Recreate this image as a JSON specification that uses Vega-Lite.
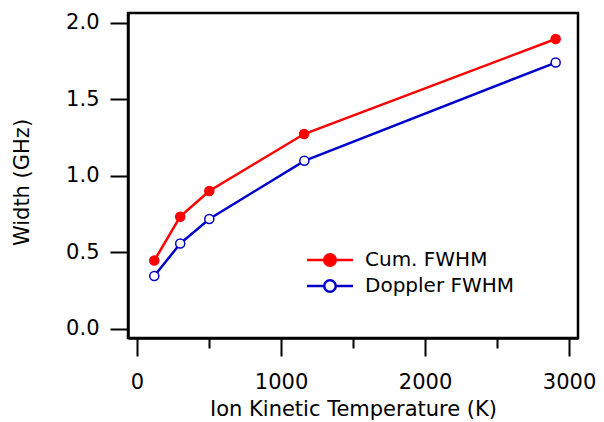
{
  "$schema": "https://vega.github.io/schema/vega-lite/v6.json",
  "width": 450,
  "height": 325,
  "autosize": "none",
  "padding": {"left": 128, "top": 13, "right": 26, "bottom": 84},
  "background": "white",
  "config": {
    "font": "DejaVu Sans",
    "view": {"stroke": "black", "strokeWidth": 2.5},
    "axis": {
      "grid": false,
      "domainColor": "black",
      "domainWidth": 2.5,
      "tickColor": "black",
      "tickWidth": 2,
      "labelColor": "black",
      "labelFont": "DejaVu Sans",
      "labelFontSize": 21,
      "titleFont": "DejaVu Sans",
      "titleFontSize": 21,
      "titleFontWeight": "normal",
      "titleColor": "black"
    },
    "legend": {
      "title": null,
      "orient": "none",
      "legendX": 189,
      "legendY": 234,
      "padding": 0,
      "symbolSize": 529,
      "symbolStrokeWidth": 2.5,
      "labelFontSize": 20,
      "labelFont": "DejaVu Sans",
      "labelColor": "black",
      "labelOffset": 22,
      "rowPadding": 2
    }
  },
  "data": {
    "values": [
      {"series": "Cum. FWHM", "T": 120, "W": 0.445},
      {"series": "Cum. FWHM", "T": 300, "W": 0.732},
      {"series": "Cum. FWHM", "T": 502, "W": 0.900},
      {"series": "Cum. FWHM", "T": 1160, "W": 1.272},
      {"series": "Cum. FWHM", "T": 2907, "W": 1.893},
      {"series": "Doppler FWHM", "T": 120, "W": 0.344},
      {"series": "Doppler FWHM", "T": 300, "W": 0.556},
      {"series": "Doppler FWHM", "T": 502, "W": 0.717},
      {"series": "Doppler FWHM", "T": 1162, "W": 1.097},
      {"series": "Doppler FWHM", "T": 2907, "W": 1.739}
    ]
  },
  "encoding": {
    "x": {
      "field": "T",
      "type": "quantitative",
      "scale": {"domain": [-62.5, 3062], "nice": false, "zero": false},
      "axis": {
        "title": "Ion Kinetic Temperature (K)",
        "values": [0, 500, 1000, 1500, 2000, 2500, 3000],
        "format": "d",
        "tickSize": {"condition": {"test": "datum.value % 1000 === 0", "value": 18}, "value": 10},
        "labelExpr": "datum.value % 1000 === 0 ? datum.label : ''",
        "labelPadding": 15,
        "titlePadding": 6
      }
    },
    "y": {
      "field": "W",
      "type": "quantitative",
      "scale": {"domain": [-0.061, 2.063], "nice": false, "zero": false},
      "axis": {
        "title": "Width (GHz)",
        "values": [0, 0.5, 1, 1.5, 2],
        "format": ".1f",
        "tickSize": 18,
        "labelPadding": 11,
        "titlePadding": 33,
        "titleY": 169
      }
    }
  },
  "layer": [
    {
      "mark": {"type": "line", "strokeWidth": 2.5},
      "encoding": {
        "stroke": {
          "field": "series",
          "type": "nominal",
          "scale": {"domain": ["Cum. FWHM", "Doppler FWHM"], "range": ["#ff0000", "#0000cc"]},
          "legend": {
            "symbolType": "M-2,0H-0.5M0.5,0H2M0.5,0A0.5,0.5 0 1 1 -0.5,0A0.5,0.5 0 1 1 0.5,0Z"
          }
        }
      }
    },
    {
      "mark": {"type": "point", "shape": "circle", "filled": true, "size": 82, "strokeWidth": 1.5, "opacity": 1},
      "encoding": {
        "stroke": {
          "field": "series",
          "type": "nominal",
          "scale": {"domain": ["Cum. FWHM", "Doppler FWHM"], "range": ["#ff0000", "#0000cc"]},
          "legend": {
            "symbolType": "M-2,0H-0.5M0.5,0H2M0.5,0A0.5,0.5 0 1 1 -0.5,0A0.5,0.5 0 1 1 0.5,0Z"
          }
        },
        "fill": {
          "field": "series",
          "type": "nominal",
          "scale": {"domain": ["Cum. FWHM", "Doppler FWHM"], "range": ["#ff0000", "#ffffff"]},
          "legend": {
            "symbolType": "M-2,0H-0.5M0.5,0H2M0.5,0A0.5,0.5 0 1 1 -0.5,0A0.5,0.5 0 1 1 0.5,0Z"
          }
        }
      }
    }
  ]
}
